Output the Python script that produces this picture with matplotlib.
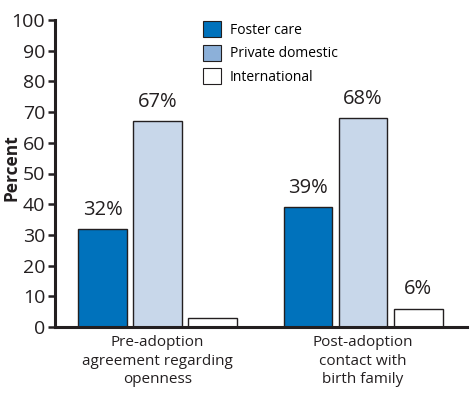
import matplotlib
matplotlib.use("Agg")
import matplotlib.pyplot as plt
from matplotlib.patches import Patch
import numpy as np

categories = ["Pre-adoption\nagreement regarding\nopenness", "Post-adoption\ncontact with\nbirth family"]
series = ["Foster care", "Private domestic", "International"]
foster = [32, 39]
private = [67, 68]
international = [3, 6]
labels_foster = ["32%", "39%"]
labels_private = ["67%", "68%"]
labels_intl = ["", "6%"]
yticks = [0, 10, 20, 30, 40, 50, 60, 70, 80, 90, 100]

plt.rcParams['font.family'] = ['Open Sans', 'DejaVu Sans']

fig = plt.figure(figsize=(4.74, 3.98), dpi=100)
ax = fig.add_axes([55/474, (398-327)/398, (467-55)/474, (327-20)/398])

x = np.arange(len(categories))
w = 0.238
off = 0.268
bar_colors = ["#0072bc", "#c8d7ea", "#ffffff"]
legend_colors = ["#0072bc", "#8cb0d9", "#ffffff"]
vals = [foster, private, international]
labs = [labels_foster, labels_private, labels_intl]
for i, (v, lab, c) in enumerate(zip(vals, labs, bar_colors)):
    bars = ax.bar(x + (i - 1) * off, v, width=w, color=c, edgecolor="#231f20", linewidth=1.0, zorder=2)
    for b, t in zip(bars, lab):
        if t:
            ax.text(b.get_x() + b.get_width() / 2, b.get_height() + 3, t,
                    ha="center", va="bottom", fontsize=14.5, color="#231f20")

ax.set_xlim(-0.499, 1.506)
ax.set_ylim(0, 100)
ax.set_yticks(yticks)
ax.set_xticks(x)
ax.set_xticklabels(categories, fontsize=11, color="#231f20", linespacing=1.3)
ax.tick_params(axis="x", length=0, pad=6)
ax.tick_params(axis="y", length=5, width=1.8, labelsize=14, colors="#231f20", pad=2)
for s in ["top", "right"]:
    ax.spines[s].set_visible(False)
for s in ["left", "bottom"]:
    ax.spines[s].set_linewidth(2.2)
    ax.spines[s].set_color("#231f20")
ax.set_ylabel("Percent", fontsize=12.5, fontweight="bold", color="#231f20")
ax.yaxis.set_label_coords((21 - 55) / 412, 0.518)

handles = [Patch(facecolor=c, edgecolor="#231f20", linewidth=0.8) for c in legend_colors]
leg = ax.legend(handles, series, loc="upper left", bbox_to_anchor=((197 - 55) / 412, 1.015),
                frameon=False, fontsize=10, handlelength=1.35, handleheight=1.4,
                handletextpad=0.6, labelspacing=0.5, borderaxespad=0)

fig.savefig("out.png", dpi=100)
